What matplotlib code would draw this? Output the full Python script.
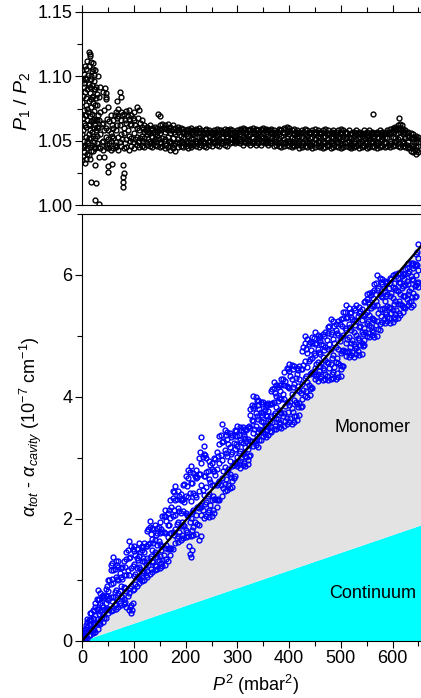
import matplotlib
matplotlib.use('Agg')
import matplotlib.pyplot as plt
from matplotlib.ticker import MultipleLocator, FormatStrFormatter
import numpy as np

plt.rcParams['font.family'] = 'Liberation Sans'
plt.rcParams['mathtext.fontset'] = 'custom'
plt.rcParams['mathtext.rm'] = 'Liberation Sans'
plt.rcParams['mathtext.it'] = 'Liberation Sans:italic'
plt.rcParams['mathtext.bf'] = 'Liberation Sans:bold'

# P^2 sampling (mbar^2)
p2 = [0, 5, 10, 15, 20, 25, 30, 35, 40, 45,
      50, 55, 60, 65, 70, 75, 80, 85, 90, 95,
      100, 105, 110, 115, 120, 125, 130, 135, 140, 145,
      150, 155, 160, 165, 170, 175, 180, 185, 190, 195,
      200, 205, 210, 215, 220, 225, 230, 235, 240, 245,
      250, 255, 260, 265, 270, 275, 280, 285, 290, 295,
      300, 305, 310, 315, 320, 325, 330, 335, 340, 345,
      350, 355, 360, 365, 370, 375, 380, 385, 390, 395,
      400, 405, 410, 415, 420, 425, 430, 435, 440, 445,
      450, 455, 460, 465, 470, 475, 480, 485, 490, 495,
      500, 505, 510, 515, 520, 525, 530, 535, 540, 545,
      550, 555, 560, 565, 570, 575, 580, 585, 590, 595,
      600, 605, 610, 615, 620, 625, 630, 635, 640, 645,
      650]
p2_mid = [2.5, 7.5, 12.5, 17.5, 22.5, 27.5, 32.5, 37.5, 42.5, 47.5,
          52.5, 57.5, 62.5, 67.5, 72.5, 77.5, 82.5, 87.5, 92.5, 97.5,
          102.5, 107.5, 112.5, 117.5, 122.5, 127.5, 132.5, 137.5, 142.5, 147.5,
          152.5, 157.5, 162.5, 167.5, 172.5, 177.5, 182.5, 187.5, 192.5, 197.5,
          202.5, 207.5, 212.5, 217.5, 222.5, 227.5, 232.5, 237.5, 242.5, 247.5,
          252.5, 257.5, 262.5, 267.5, 272.5, 277.5, 282.5, 287.5, 292.5, 297.5,
          302.5, 307.5, 312.5, 317.5, 322.5, 327.5, 332.5, 337.5, 342.5, 347.5,
          352.5, 357.5, 362.5, 367.5, 372.5, 377.5, 382.5, 387.5, 392.5, 397.5,
          402.5, 407.5, 412.5, 417.5, 422.5, 427.5, 432.5, 437.5, 442.5, 447.5,
          452.5, 457.5, 462.5, 467.5, 472.5, 477.5, 482.5, 487.5, 492.5, 497.5,
          502.5, 507.5, 512.5, 517.5, 522.5, 527.5, 532.5, 537.5, 542.5, 547.5,
          552.5, 557.5, 562.5, 567.5, 572.5, 577.5, 582.5, 587.5, 592.5, 597.5,
          602.5, 607.5, 612.5, 617.5, 622.5, 627.5, 632.5, 637.5, 642.5, 647.5]

# P1/P2 ratio
ratio_a = [1.035, 1.033, 1.040, 1.036, 1.042, 1.044, 1.045, 1.044, 1.043, 1.045,
           1.044, 1.043, 1.044, 1.045, 1.043, 1.046, 1.044, 1.045, 1.043, 1.046,
           1.044, 1.047, 1.045, 1.046, 1.045, 1.047, 1.046, 1.045, 1.047, 1.046,
           1.045, 1.046, 1.044, 1.045, 1.043, 1.044, 1.042, 1.045, 1.046, 1.045,
           1.046, 1.044, 1.045, 1.047, 1.046, 1.045, 1.047, 1.046, 1.045, 1.047,
           1.046, 1.048, 1.047, 1.046, 1.048, 1.047, 1.046, 1.048, 1.049, 1.048,
           1.049, 1.048, 1.047, 1.049, 1.048, 1.047, 1.048, 1.047, 1.048, 1.047,
           1.049, 1.048, 1.047, 1.048, 1.046, 1.047, 1.046, 1.045, 1.046, 1.047,
           1.046, 1.045, 1.046, 1.047, 1.044, 1.045, 1.046, 1.045, 1.046, 1.044,
           1.045, 1.046, 1.045, 1.044, 1.045, 1.046, 1.044, 1.045, 1.046, 1.045,
           1.044, 1.045, 1.046, 1.045, 1.044, 1.045, 1.046, 1.044, 1.045, 1.046,
           1.044, 1.045, 1.046, 1.045, 1.044, 1.045, 1.046, 1.045, 1.046, 1.045,
           1.046, 1.047, 1.046, 1.045, 1.046, 1.045, 1.044, 1.042, 1.041, 1.040,
           1.041]
ratio_b = [1.055, 1.062, 1.050, 1.058, 1.066, 1.052, 1.060, 1.055, 1.050, 1.053,
           1.051, 1.050, 1.052, 1.049, 1.053, 1.055, 1.056, 1.051, 1.054, 1.052,
           1.056, 1.053, 1.050, 1.054, 1.052, 1.055, 1.050, 1.053, 1.051, 1.054,
           1.049, 1.052, 1.051, 1.053, 1.050, 1.052, 1.048, 1.051, 1.050, 1.052,
           1.050, 1.049, 1.052, 1.051, 1.050, 1.053, 1.051, 1.049, 1.052, 1.050,
           1.051, 1.052, 1.050, 1.051, 1.052, 1.050, 1.052, 1.051, 1.052, 1.051,
           1.052, 1.051, 1.053, 1.052, 1.051, 1.050, 1.052, 1.051, 1.053, 1.050,
           1.052, 1.051, 1.050, 1.052, 1.051, 1.050, 1.052, 1.049, 1.051, 1.052,
           1.050, 1.049, 1.051, 1.052, 1.050, 1.049, 1.051, 1.050, 1.052, 1.049,
           1.051, 1.050, 1.052, 1.050, 1.049, 1.051, 1.050, 1.052, 1.051, 1.049,
           1.050, 1.051, 1.052, 1.050, 1.048, 1.050, 1.051, 1.049, 1.050, 1.052,
           1.049, 1.051, 1.050, 1.052, 1.049, 1.050, 1.051, 1.049, 1.052, 1.050,
           1.053, 1.052, 1.051, 1.053, 1.050, 1.052, 1.049, 1.047, 1.046, 1.045,
           1.046]
ratio_c = [1.080, 1.088, 1.075, 1.092, 1.085, 1.078, 1.070, 1.072, 1.064, 1.060,
           1.058, 1.056, 1.060, 1.058, 1.069, 1.066, 1.060, 1.064, 1.067, 1.062,
           1.066, 1.060, 1.058, 1.061, 1.057, 1.059, 1.056, 1.058, 1.055, 1.057,
           1.056, 1.059, 1.057, 1.058, 1.056, 1.059, 1.055, 1.057, 1.054, 1.056,
           1.055, 1.054, 1.056, 1.055, 1.056, 1.057, 1.054, 1.055, 1.056, 1.054,
           1.055, 1.056, 1.054, 1.055, 1.056, 1.055, 1.054, 1.056, 1.055, 1.054,
           1.056, 1.055, 1.057, 1.056, 1.054, 1.055, 1.056, 1.055, 1.056, 1.054,
           1.056, 1.055, 1.054, 1.056, 1.055, 1.053, 1.055, 1.054, 1.056, 1.057,
           1.055, 1.053, 1.055, 1.056, 1.054, 1.053, 1.055, 1.054, 1.056, 1.053,
           1.055, 1.054, 1.056, 1.053, 1.054, 1.055, 1.053, 1.056, 1.054, 1.053,
           1.055, 1.054, 1.056, 1.053, 1.052, 1.054, 1.055, 1.053, 1.054, 1.055,
           1.053, 1.054, 1.055, 1.054, 1.053, 1.055, 1.054, 1.053, 1.056, 1.055,
           1.057, 1.058, 1.056, 1.057, 1.055, 1.056, 1.053, 1.052, 1.051, 1.050,
           1.049]
ratio_d = [1.105, 1.108, 1.112, 1.116, 1.110, 1.105, 1.100, 1.092, 1.088, 1.082,
           1.076, 1.070, 1.066, 1.072, 1.075, 1.072, 1.071, 1.073, 1.074, 1.070,
           1.072, 1.076, 1.074, 1.066, 1.062, 1.061, 1.062, 1.060, 1.061, 1.060,
           1.062, 1.063, 1.062, 1.063, 1.061, 1.062, 1.060, 1.061, 1.060, 1.059,
           1.058, 1.059, 1.060, 1.058, 1.059, 1.060, 1.058, 1.057, 1.059, 1.058,
           1.057, 1.058, 1.059, 1.058, 1.057, 1.059, 1.058, 1.059, 1.058, 1.057,
           1.058, 1.059, 1.060, 1.059, 1.058, 1.059, 1.060, 1.059, 1.058, 1.059,
           1.060, 1.059, 1.058, 1.059, 1.058, 1.057, 1.059, 1.058, 1.060, 1.061,
           1.060, 1.058, 1.059, 1.058, 1.057, 1.058, 1.059, 1.058, 1.057, 1.058,
           1.059, 1.058, 1.057, 1.058, 1.059, 1.058, 1.056, 1.058, 1.057, 1.058,
           1.059, 1.058, 1.057, 1.058, 1.056, 1.057, 1.058, 1.057, 1.056, 1.058,
           1.057, 1.058, 1.057, 1.056, 1.057, 1.058, 1.057, 1.056, 1.058, 1.059,
           1.060, 1.061, 1.062, 1.060, 1.059, 1.058, 1.057, 1.056, 1.055, 1.054,
           1.053]
ratio_e = [1.045, 1.070, 1.052, 1.082, 1.060, 1.048, 1.066, 1.049, 1.058, 1.047,
           1.048, 1.054, 1.047, 1.062, 1.049, 1.051, 1.048, 1.058, 1.050, 1.049,
           1.051, 1.049, 1.052, 1.050, 1.049, 1.051, 1.048, 1.050, 1.049, 1.051,
           1.048, 1.050, 1.047, 1.049, 1.048, 1.047, 1.049, 1.048, 1.049, 1.048,
           1.048, 1.047, 1.049, 1.050, 1.048, 1.049, 1.050, 1.048, 1.049, 1.050,
           1.049, 1.050, 1.049, 1.048, 1.050, 1.049, 1.050, 1.051, 1.050, 1.050,
           1.051, 1.050, 1.049, 1.051, 1.050, 1.049, 1.050, 1.049, 1.051, 1.049,
           1.050, 1.049, 1.048, 1.050, 1.049, 1.048, 1.049, 1.048, 1.049, 1.050,
           1.048, 1.047, 1.049, 1.048, 1.047, 1.048, 1.049, 1.048, 1.047, 1.048,
           1.048, 1.049, 1.047, 1.048, 1.047, 1.049, 1.048, 1.047, 1.049, 1.048,
           1.047, 1.048, 1.049, 1.047, 1.046, 1.048, 1.047, 1.048, 1.047, 1.048,
           1.047, 1.048, 1.049, 1.047, 1.048, 1.047, 1.049, 1.048, 1.047, 1.048,
           1.049, 1.050, 1.048, 1.049, 1.048, 1.047, 1.045, 1.044, 1.043, 1.043]
ratio_f = [1.095, 1.098, 1.062, 1.100, 1.090, 1.066, 1.084, 1.063, 1.074, 1.067,
           1.065, 1.062, 1.070, 1.068, 1.062, 1.070, 1.066, 1.069, 1.063, 1.068,
           1.062, 1.068, 1.064, 1.059, 1.058, 1.057, 1.059, 1.057, 1.058, 1.059,
           1.058, 1.060, 1.059, 1.060, 1.058, 1.057, 1.058, 1.059, 1.057, 1.057,
           1.057, 1.058, 1.057, 1.057, 1.058, 1.056, 1.057, 1.058, 1.056, 1.057,
           1.057, 1.056, 1.057, 1.058, 1.057, 1.056, 1.058, 1.057, 1.056, 1.057,
           1.057, 1.058, 1.058, 1.057, 1.058, 1.058, 1.057, 1.058, 1.057, 1.058,
           1.058, 1.057, 1.058, 1.057, 1.056, 1.057, 1.058, 1.057, 1.059, 1.058,
           1.057, 1.056, 1.057, 1.056, 1.056, 1.057, 1.056, 1.057, 1.056, 1.056,
           1.057, 1.056, 1.055, 1.057, 1.056, 1.056, 1.057, 1.056, 1.055, 1.056,
           1.057, 1.056, 1.056, 1.055, 1.056, 1.056, 1.055, 1.056, 1.055, 1.056,
           1.056, 1.055, 1.056, 1.055, 1.056, 1.056, 1.055, 1.057, 1.056, 1.057,
           1.059, 1.059, 1.058, 1.058, 1.057, 1.056, 1.054, 1.053, 1.052, 1.051]

# extra low-pressure points (large scatter) and stray points
early_p2 = [1, 1, 1, 2, 2, 2, 3, 3, 3, 4, 4, 4, 6, 6, 6, 7, 7, 7, 8, 8,
            8, 9, 9, 9, 11, 11, 11, 12, 12, 12, 13, 13, 13, 14, 14, 14, 16, 16, 16, 17,
            17, 17, 18, 18, 18, 19, 19, 19, 21, 21, 21, 22, 22, 22, 23, 23, 23, 24, 24, 24,
            26, 26, 27, 27, 28, 28, 29, 29]
early_ratio = [1.097, 1.068, 1.046, 1.085, 1.058, 1.038, 1.102, 1.074, 1.050, 1.092,
               1.064, 1.041, 1.099, 1.070, 1.047, 1.083, 1.061, 1.036, 1.106, 1.078,
               1.053, 1.090, 1.066, 1.044, 1.101, 1.072, 1.048, 1.094, 1.063, 1.039,
               1.108, 1.081, 1.055, 1.087, 1.069, 1.045, 1.111, 1.076, 1.052, 1.098,
               1.065, 1.042, 1.104, 1.084, 1.057, 1.093, 1.071, 1.047, 1.106, 1.079,
               1.054, 1.096, 1.067, 1.049, 1.101, 1.073, 1.045, 1.090, 1.062, 1.044,
               1.083, 1.058, 1.092, 1.066, 1.078, 1.054, 1.086, 1.061]
stray_p2 = [16, 26, 25, 33, 25, 32, 41, 50, 50, 58, 78, 78, 78, 78, 80,
            12, 15, 44, 45, 46, 68, 73, 75, 146, 150, 562, 612, 614, 618]
stray_ratio = [1.018, 1.017, 1.004, 1.001, 1.031, 1.037, 1.037, 1.030, 1.026, 1.032,
               1.031, 1.022, 1.018, 1.014, 1.025, 1.119, 1.117, 1.091, 1.087, 1.084,
               1.081, 1.088, 1.084, 1.071, 1.069, 1.071, 1.068, 1.063, 1.062]

# alpha_tot - alpha_cavity (1e-7 cm^-1), values at each P^2 step
alpha_a = [0.00, 0.02, 0.05, 0.10, 0.12, 0.15, 0.20, 0.28, 0.30, 0.38,
           0.45, 0.48, 0.50, 0.52, 0.55, 0.58, 0.60, 0.55, 0.50, 0.45,
           0.85, 0.90, 0.95, 0.98, 1.00, 1.05, 1.10, 1.12, 1.16, 1.18,
           1.20, 1.22, 1.25, 1.30, 1.40, 1.50, 1.60, 1.62, 1.65, 1.68,
           1.70, 1.72, 1.72, 1.74, 1.75, 1.90, 2.06, 2.02, 2.05, 2.03,
           2.04, 2.10, 2.20, 2.30, 2.37, 2.45, 2.48, 2.50, 2.52, 2.70,
           2.86, 2.84, 2.88, 2.87, 2.90, 3.05, 3.19, 3.21, 3.18, 3.30,
           3.36, 3.34, 3.37, 3.42, 3.47, 3.48, 3.50, 3.49, 3.52, 3.55,
           3.58, 3.56, 3.59, 3.62, 3.70, 3.85, 4.02, 4.00, 4.03, 4.15,
           4.29, 4.26, 4.31, 4.28, 4.30, 4.27, 4.29, 4.31, 4.30, 4.33,
           4.35, 4.50, 4.67, 4.65, 4.68, 4.66, 4.70, 4.68, 4.71, 4.85,
           5.00, 4.98, 5.01, 4.99, 5.00, 5.10, 5.23, 5.21, 5.24, 5.22,
           5.23, 5.27, 5.30, 5.35, 5.40, 5.45, 5.50, 5.48, 5.51, 5.65,
           5.80]
alpha_b = [0.01, 0.04, 0.14, 0.19, 0.17, 0.29, 0.36, 0.34, 0.44, 0.50,
           0.52, 0.71, 0.72, 0.61, 0.78, 0.74, 0.68, 0.82, 0.78, 0.58,
           1.06, 1.05, 1.03, 1.15, 1.15, 1.14, 1.36, 1.30, 1.25, 1.38,
           1.39, 1.32, 1.52, 1.50, 1.51, 1.79, 1.84, 1.72, 1.88, 1.90,
           1.82, 2.04, 2.01, 1.86, 2.07, 2.18, 2.20, 2.39, 2.28, 2.15,
           2.30, 2.33, 2.31, 2.62, 2.67, 2.57, 2.76, 2.73, 2.62, 2.93,
           3.02, 2.94, 3.07, 3.03, 2.97, 3.28, 3.40, 3.30, 3.43, 3.45,
           3.43, 3.52, 3.50, 3.50, 3.70, 3.66, 3.58, 3.74, 3.74, 3.66,
           3.87, 3.82, 3.69, 3.88, 3.90, 3.96, 4.31, 4.25, 4.13, 4.40,
           4.48, 4.38, 4.50, 4.48, 4.38, 4.55, 4.54, 4.41, 4.57, 4.55,
           4.46, 4.77, 4.88, 4.76, 4.89, 4.87, 4.80, 4.93, 4.89, 4.93,
           5.21, 5.18, 5.09, 5.26, 5.25, 5.20, 5.44, 5.40, 5.31, 5.45,
           5.42, 5.36, 5.52, 5.52, 5.47, 5.65, 5.68, 5.58, 5.71, 5.83,
           5.88]
alpha_c = [0.03, 0.09, 0.22, 0.28, 0.27, 0.42, 0.52, 0.48, 0.56, 0.62,
           0.67, 0.93, 0.94, 0.83, 0.99, 0.89, 0.88, 1.07, 1.07, 0.89,
           1.26, 1.20, 1.21, 1.31, 1.30, 1.35, 1.60, 1.49, 1.46, 1.57,
           1.58, 1.55, 1.77, 1.70, 1.76, 2.05, 2.07, 1.95, 2.09, 2.12,
           2.10, 2.35, 2.29, 2.14, 2.36, 2.45, 2.56, 2.71, 2.52, 2.40,
           2.55, 2.55, 2.56, 2.91, 2.96, 2.85, 3.03, 2.95, 2.86, 3.14,
           3.19, 3.12, 3.24, 3.18, 3.14, 3.49, 3.60, 3.52, 3.64, 3.61,
           3.58, 3.68, 3.63, 3.69, 3.92, 3.84, 3.78, 3.96, 3.97, 3.92,
           4.14, 4.05, 3.95, 4.12, 4.10, 4.21, 4.59, 4.49, 4.37, 4.63,
           4.68, 4.58, 4.70, 4.66, 4.60, 4.79, 4.79, 4.68, 4.82, 4.78,
           4.72, 5.02, 5.09, 4.98, 5.09, 5.07, 5.02, 5.15, 5.07, 5.13,
           5.40, 5.35, 5.29, 5.49, 5.50, 5.44, 5.64, 5.57, 5.49, 5.65,
           5.62, 5.57, 5.73, 5.69, 5.65, 5.83, 5.85, 5.78, 5.91, 6.00,
           6.08]
alpha_d = [0.04, 0.14, 0.31, 0.36, 0.38, 0.56, 0.67, 0.62, 0.70, 0.73,
           0.82, 1.16, 1.16, 1.05, 1.21, 1.05, 1.08, 1.34, 1.35, 1.20,
           1.47, 1.35, 1.39, 1.48, 1.45, 1.56, 1.86, 1.67, 1.66, 1.77,
           1.76, 1.78, 2.04, 1.90, 2.01, 2.34, 2.31, 2.18, 2.31, 2.33,
           2.38, 2.67, 2.58, 2.43, 2.67, 2.73, 2.92, 3.06, 2.76, 2.66,
           2.81, 2.78, 2.81, 3.22, 3.26, 3.13, 3.31, 3.18, 3.10, 3.36,
           3.36, 3.30, 3.43, 3.33, 3.31, 3.71, 3.81, 3.74, 3.86, 3.76,
           3.73, 3.84, 3.77, 3.88, 4.15, 4.02, 3.98, 4.20, 4.19, 4.18,
           4.42, 4.29, 4.21, 4.38, 4.30, 4.46, 4.88, 4.72, 4.62, 4.88,
           4.87, 4.79, 4.91, 4.85, 4.81, 5.05, 5.03, 4.95, 5.09, 5.01,
           4.98, 5.29, 5.29, 5.20, 5.31, 5.26, 5.24, 5.38, 5.26, 5.33,
           5.61, 5.53, 5.49, 5.75, 5.75, 5.68, 5.85, 5.73, 5.68, 5.86,
           5.81, 5.78, 5.95, 5.86, 5.82, 6.02, 6.03, 5.98, 6.12, 6.18,
           6.28]
alpha_e = [0.05, 0.20, 0.35, 0.45, 0.50, 0.62, 0.83, 0.78, 0.75, 0.85,
           1.00, 1.25, 1.38, 1.30, 1.30, 1.20, 1.30, 1.45, 1.63, 1.55,
           1.55, 1.50, 1.60, 1.55, 1.60, 1.80, 1.96, 1.85, 1.90, 1.85,
           1.95, 2.05, 2.15, 2.10, 2.30, 2.45, 2.54, 2.45, 2.40, 2.55,
           2.70, 2.80, 2.86, 2.75, 2.80, 3.00, 3.34, 3.20, 3.00, 2.95,
           2.92, 3.00, 3.10, 3.35, 3.55, 3.45, 3.42, 3.40, 3.38, 3.45,
           3.52, 3.50, 3.50, 3.48, 3.50, 3.80, 4.02, 4.00, 3.95, 3.92,
           3.91, 3.88, 3.90, 4.10, 4.24, 4.20, 4.20, 4.30, 4.41, 4.48,
           4.54, 4.52, 4.50, 4.48, 4.50, 4.75, 5.00, 4.95, 4.90, 4.98,
           5.06, 5.02, 5.00, 5.03, 5.06, 5.15, 5.28, 5.25, 5.20, 5.24,
           5.28, 5.40, 5.50, 5.45, 5.40, 5.45, 5.50, 5.47, 5.44, 5.55,
           5.69, 5.70, 5.72, 5.85, 6.00, 5.95, 5.93, 5.90, 5.89, 5.95,
           6.00, 6.02, 6.04, 6.03, 6.02, 6.10, 6.20, 6.20, 6.20, 6.35,
           6.50]
# values at the in-between P^2 steps
alpha_f = [0.02, 0.08, 0.10, 0.18, 0.17, 0.29, 0.29, 0.39, 0.38, 0.52,
           0.52, 0.65, 0.58, 0.69, 0.62, 0.72, 0.64, 0.73, 0.56, 0.83,
           0.93, 1.05, 1.01, 1.11, 1.08, 1.24, 1.17, 1.29, 1.23, 1.33,
           1.27, 1.41, 1.34, 1.52, 1.52, 1.74, 1.68, 1.79, 1.73, 1.88,
           1.79, 1.94, 1.82, 1.95, 1.91, 2.22, 2.14, 2.25, 2.11, 2.22,
           2.14, 2.33, 2.33, 2.56, 2.50, 2.66, 2.56, 2.69, 2.67, 2.92,
           2.90, 2.99, 2.92, 3.01, 3.03, 3.28, 3.26, 3.35, 3.30, 3.45,
           3.39, 3.46, 3.44, 3.59, 3.53, 3.63, 3.55, 3.68, 3.61, 3.75,
           3.65, 3.76, 3.68, 3.83, 3.84, 4.12, 4.09, 4.20, 4.16, 4.38,
           4.34, 4.43, 4.35, 4.44, 4.35, 4.47, 4.38, 4.49, 4.39, 4.52,
           4.50, 4.76, 4.73, 4.82, 4.73, 4.84, 4.75, 4.85, 4.84, 5.06,
           5.05, 5.14, 5.06, 5.18, 5.12, 5.32, 5.28, 5.36, 5.29, 5.38,
           5.31, 5.43, 5.38, 5.51, 5.48, 5.61, 5.55, 5.64, 5.64, 5.87]
alpha_g = [0.05, 0.19, 0.19, 0.34, 0.28, 0.52, 0.44, 0.59, 0.50, 0.74,
           0.70, 1.01, 0.80, 1.02, 0.81, 1.01, 0.86, 1.16, 0.87, 1.22,
           1.10, 1.32, 1.18, 1.36, 1.26, 1.58, 1.39, 1.60, 1.42, 1.64,
           1.49, 1.78, 1.57, 1.89, 1.77, 2.15, 1.92, 2.13, 1.95, 2.28,
           2.07, 2.42, 2.11, 2.39, 2.20, 2.73, 2.47, 2.71, 2.37, 2.60,
           2.38, 2.72, 2.59, 3.04, 2.79, 3.08, 2.81, 3.06, 2.89, 3.22,
           3.08, 3.26, 3.09, 3.27, 3.21, 3.62, 3.48, 3.69, 3.48, 3.70,
           3.54, 3.69, 3.61, 3.90, 3.74, 3.94, 3.76, 4.04, 3.85, 4.16,
           3.91, 4.16, 3.92, 4.18, 4.07, 4.53, 4.35, 4.59, 4.39, 4.72,
           4.54, 4.74, 4.55, 4.77, 4.57, 4.87, 4.64, 4.88, 4.63, 4.92,
           4.75, 5.13, 4.95, 5.14, 4.93, 5.18, 4.97, 5.17, 5.03, 5.36,
           5.24, 5.45, 5.27, 5.58, 5.37, 5.65, 5.46, 5.65, 5.47, 5.70,
           5.52, 5.75, 5.57, 5.79, 5.65, 5.90, 5.74, 5.94, 5.82, 6.17]
alpha_h = [0.10, 0.26, 0.34, 0.45, 0.48, 0.69, 0.69, 0.74, 0.71, 0.89,
           0.99, 1.27, 1.17, 1.25, 1.11, 1.21, 1.21, 1.48, 1.37, 1.50,
           1.40, 1.51, 1.45, 1.54, 1.56, 1.83, 1.75, 1.83, 1.73, 1.86,
           1.84, 2.05, 1.96, 2.15, 2.19, 2.44, 2.32, 2.38, 2.31, 2.57,
           2.54, 2.76, 2.59, 2.71, 2.69, 3.10, 3.02, 3.04, 2.79, 2.88,
           2.78, 2.98, 3.03, 3.38, 3.28, 3.38, 3.23, 3.34, 3.25, 3.44,
           3.38, 3.46, 3.37, 3.45, 3.52, 3.86, 3.85, 3.93, 3.80, 3.88,
           3.79, 3.86, 3.88, 4.13, 4.07, 4.16, 4.10, 4.30, 4.26, 4.45,
           4.34, 4.45, 4.31, 4.44, 4.46, 4.82, 4.78, 4.87, 4.77, 4.97,
           4.89, 4.97, 4.87, 5.00, 4.94, 5.16, 5.07, 5.17, 5.04, 5.20,
           5.16, 5.40, 5.31, 5.38, 5.27, 5.43, 5.33, 5.41, 5.35, 5.58,
           5.55, 5.67, 5.63, 5.87, 5.79, 5.89, 5.78, 5.86, 5.78, 5.93,
           5.86, 5.99, 5.89, 5.99, 5.93, 6.11, 6.06, 6.16, 6.14, 6.38]
stray_alpha_p2 = [206, 208, 210, 212, 226, 229, 96, 98]
stray_alpha = [1.55, 1.42, 1.38, 1.48, 1.66, 1.72, 0.50, 0.62]

# linear fit and its continuum share
fit_p2 = [0, 655]
fit_total = [0, 6.47]
fit_continuum = [0, 1.90]

W, H = 421, 698
fig = plt.figure(figsize=(W / 100, H / 100), dpi=100)
left = 82.3 / W
ax1 = fig.add_axes([left, 1 - 205 / H, 1 - left, 193 / H])
ax2 = fig.add_axes([left, 1 - 640.7 / H, 1 - left, 426.7 / H])

# top panel
xs = np.concatenate([p2] * 4 + [p2_mid] * 2 + [early_p2, stray_p2])
ys = np.concatenate([ratio_a, ratio_b, ratio_c, ratio_d, ratio_e, ratio_f,
                     early_ratio, stray_ratio])
ax1.plot(xs, ys, 'o', ls='none', ms=3.5, mfc='none', mec='black', mew=1.0)
ax1.set_xlim(0, 655)
ax1.set_ylim(1.0, 1.15)
ax1.xaxis.set_major_locator(MultipleLocator(100))
ax1.xaxis.set_minor_locator(MultipleLocator(50))
ax1.yaxis.set_major_locator(MultipleLocator(0.05))
ax1.yaxis.set_minor_locator(MultipleLocator(0.025))
ax1.yaxis.set_major_formatter(FormatStrFormatter('%.2f'))
ax1.tick_params(axis='x', which='both', bottom=False, top=True,
                labelbottom=False, labeltop=False, direction='out')
ax1.tick_params(axis='y', which='both', direction='out', right=False,
                labelsize=13, pad=2)
ax1.spines['right'].set_visible(False)

# bottom panel
ax2.fill_between(fit_p2, 0, fit_continuum, color='#00ffff', lw=0, zorder=0)
ax2.fill_between(fit_p2, fit_continuum, fit_total, color='#e3e3e3', lw=0, zorder=0)
xb = np.concatenate([p2] * 5 + [p2_mid] * 3 + [stray_alpha_p2])
yb = np.concatenate([alpha_a, alpha_b, alpha_c, alpha_d, alpha_e,
                     alpha_f, alpha_g, alpha_h, stray_alpha])
ax2.plot(xb, yb, 'o', ls='none', ms=3.5, mfc='none', mec='#0000ff', mew=1.0, zorder=2)
ax2.plot(fit_p2, fit_total, color='black', lw=1.7, zorder=4)
ax2.set_xlim(0, 655)
ax2.set_ylim(0, 7)
ax2.xaxis.set_major_locator(MultipleLocator(100))
ax2.xaxis.set_minor_locator(MultipleLocator(50))
ax2.yaxis.set_major_locator(MultipleLocator(2))
ax2.yaxis.set_minor_locator(MultipleLocator(1))
ax2.tick_params(which='both', direction='out', top=False, right=False,
                labelsize=13, pad=2)
ax2.spines['right'].set_visible(False)
ax2.text(561, 3.5, 'Monomer', fontsize=13, ha='center', va='center')
ax2.text(561, 0.77, 'Continuum', fontsize=13, ha='center', va='center')

for ax in (ax1, ax2):
    ax.tick_params(which='major', length=5, width=0.8)
    ax.tick_params(which='minor', length=3.5, width=0.8)
    for s in ax.spines.values():
        s.set_linewidth(0.8)

fig.text(22 / W, 1 - 101 / H, r'$P_1$ / $P_2$', rotation=90, fontsize=14,
         ha='center', va='center')
fig.text(31 / W, 1 - 427 / H,
         r'$\alpha_{tot}$ - $\alpha_{cavity}$ (10$^{-7}$ cm$^{-1}$)',
         rotation=90, fontsize=13, ha='center', va='center')
fig.text(256 / W, 1 - 685 / H, r'$P^2$ (mbar$^2$)', fontsize=13,
         ha='center', va='center')

fig.savefig('out.png', dpi=100)
